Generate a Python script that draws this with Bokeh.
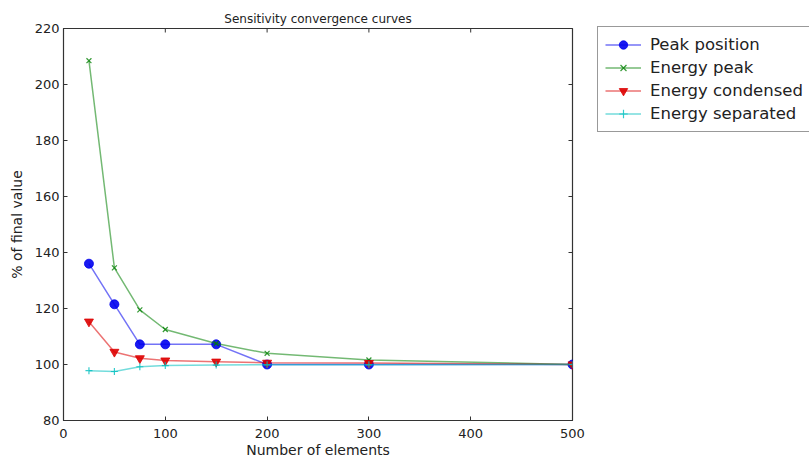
import math
from bokeh.plotting import figure
from bokeh.models import Range1d, Legend, LegendItem, FixedTicker
from bokeh.embed import file_html
from bokeh.resources import INLINE

elements = [25, 50, 75, 100, 150, 200, 300, 500]
peak_position = [136.0, 121.5, 107.2, 107.2, 107.2, 100.0, 100.0, 100.0]
energy_peak = [208.5, 134.5, 119.5, 112.5, 107.5, 104.0, 101.6, 100.0]
energy_condensed = [115.3, 104.5, 102.2, 101.4, 101.0, 100.6, 100.5, 100.0]
energy_separated = [97.8, 97.5, 99.2, 99.6, 99.8, 99.9, 99.9, 100.0]
x_ticks = [0, 100, 200, 300, 400, 500]
y_ticks = [80, 100, 120, 140, 160, 180, 200, 220]
x_min, x_max = 0, 500
y_min, y_max = 80, 220

FONT = "DejaVu Sans"
FRAME_H = 392

p = figure(frame_width=509, frame_height=FRAME_H, output_backend="svg", toolbar_location=None,
           x_range=Range1d(x_min, x_max), y_range=Range1d(y_min, y_max),
           min_border_left=63, min_border_top=28, min_border_bottom=32, min_border_right=232)
p.title.text = "Sensitivity convergence curves"
p.title.align = "center"
p.title.text_font = FONT
p.title.text_font_size = "12px"
p.title.text_font_style = "normal"
p.title.text_color = "#222222"
p.title.standoff = 5
p.grid.visible = False
p.outline_line_color = "#333333"
p.outline_line_width = 1.2
p.background_fill_color = "white"
p.border_fill_color = "white"

for ax in (p.xaxis[0], p.yaxis[0]):
    ax.major_label_text_font = FONT
    ax.major_label_text_font_size = "13px"
    ax.major_label_text_color = "#222222"
    ax.axis_label_text_font = FONT
    ax.axis_label_text_font_size = "14px"
    ax.axis_label_text_font_style = "normal"
    ax.axis_label_text_color = "#222222"
    ax.major_tick_in = 4
    ax.major_tick_out = 0
    ax.minor_tick_in = 0
    ax.minor_tick_out = 0
    ax.axis_line_color = "#333333"
    ax.major_tick_line_color = "#333333"
p.xaxis[0].ticker = FixedTicker(ticks=x_ticks)
p.yaxis[0].ticker = FixedTicker(ticks=y_ticks)
p.xaxis[0].axis_label = "Number of elements"
p.yaxis[0].axis_label = "% of final value"
p.xaxis[0].axis_label_standoff = 1
p.yaxis[0].axis_label_standoff = 7
p.xaxis[0].major_label_standoff = 8
p.yaxis[0].major_label_standoff = 4

# inward ticks on the top and right edges of the frame
p.ray(x=x_ticks, y=[y_max] * len(x_ticks), length=4, length_units="screen",
      angle=-math.pi / 2, line_color="#333333", line_width=1)
p.ray(x=[x_max] * len(y_ticks), y=y_ticks, length=4, length_units="screen",
      angle=math.pi, line_color="#333333", line_width=1)

series = [
    ("Peak position", peak_position, "#0000ee", "circle", 9),
    ("Energy peak", energy_peak, "#008000", "x", 7),
    ("Energy condensed", energy_condensed, "#dd0000", "inverted_triangle", 9),
    ("Energy separated", energy_separated, "#00bfbf", "cross", 7),
]
items = []
for name, vals, col, marker, size in series:
    ln = p.line(elements, vals, line_color=col, line_width=1.5, line_alpha=0.55)
    sc = p.scatter(elements, vals, marker=marker, size=size, fill_color=col, line_color=col,
                   fill_alpha=0.9, line_alpha=0.8, line_width=1.2 if marker in ("x", "cross") else 1)
    items.append(LegendItem(label=name, renderers=[ln, sc]))

LEG_H = 2 * 7 + 4 * 21 + 3 * 2
legend = Legend(items=items, location=(25, FRAME_H - LEG_H))
legend.label_text_font = FONT
legend.label_text_font_size = "16.5px"
legend.label_text_color = "#222222"
legend.border_line_color = "#333333"
legend.border_line_width = 1
legend.glyph_width = 36
legend.glyph_height = 21
legend.label_height = 21
legend.spacing = 2
legend.padding = 7
legend.margin = 0
legend.label_standoff = 9
legend.background_fill_color = "white"
p.add_layout(legend, "right")

open("out.html", "w").write(file_html(p, INLINE))
